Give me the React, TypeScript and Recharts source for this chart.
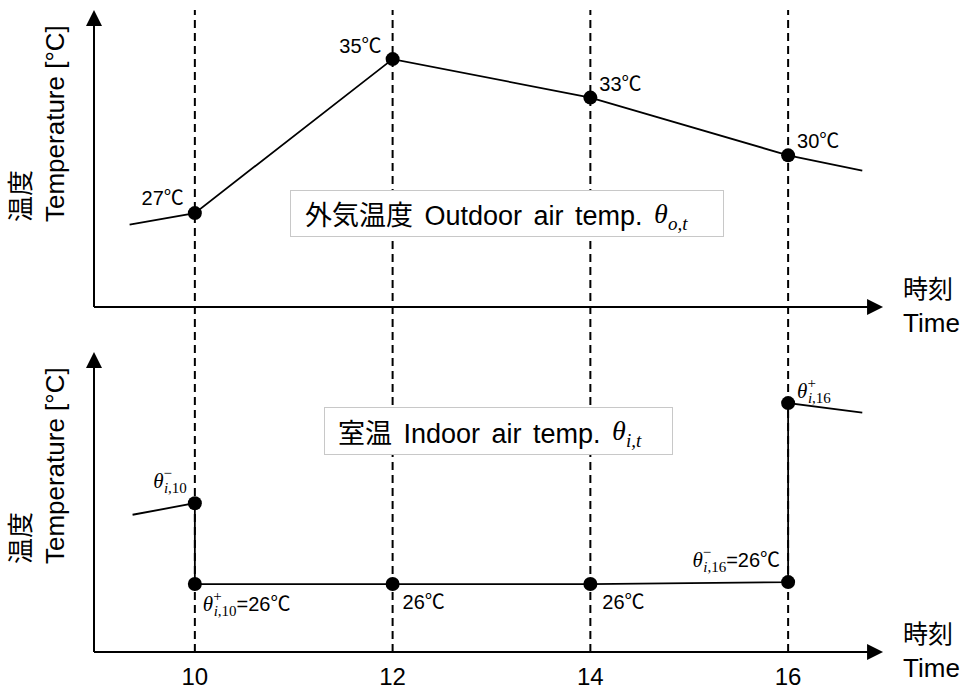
import React from 'react';
import { ComposedChart, Line, XAxis, YAxis, ReferenceLine } from 'recharts';

// ---- data ----
const timeTicks = [10, 12, 14, 16];

const outdoorHours = [9.34, 10, 12, 14, 16, 16.75];
const outdoorTemps = [26.4, 27, 35, 33, 30, 29.2];
const outdoorTexts = ['', '27℃', '35℃', '33℃', '30℃', ''];
const outdoorMarked = [false, true, true, true, true, false];

const indoorHours = [9.37, 10, 10, 12, 14, 16, 16, 16.75];
const indoorTemps = [29.6, 30.2, 26, 26, 26, 26.1, 35.4, 34.9];
const indoorSup = ['', '−', '+', '', '', '−', '+', ''];
const indoorSub = ['', 'i,10', 'i,10', '', '', 'i,16', 'i,16', ''];
const indoorTexts = ['', '', '=26℃', '26℃', '26℃', '=26℃', '', ''];
const indoorMarked = [false, true, true, true, true, true, true, false];

const outdoorData = outdoorHours.map((t, i) => ({
  t,
  temp: outdoorTemps[i],
  text: outdoorTexts[i],
  marked: outdoorMarked[i],
}));
const indoorData = indoorHours.map((t, i) => ({
  t,
  temp: indoorTemps[i],
  sup: indoorSup[i],
  sub: indoorSub[i],
  text: indoorTexts[i],
  marked: indoorMarked[i],
}));

// ---- layout constants ----
const W = 965;
const H = 693;
const X_DOMAIN: [number, number] = [8.98, 17];
const TOP_DOMAIN: [number, number] = [4.2, 37.55];
const BOT_DOMAIN: [number, number] = [22.47, 55.82];
const TOP_AXIS_Y = 22.12;
const BOT_AXIS_Y = 22.47;
const BOT_AXIS_TOP = 38.05;
const X_TIP = 16.96;

const SANS = "'Liberation Sans', Arial, 'Noto Sans CJK JP', sans-serif";
const CJK = "'Noto Sans CJK JP', 'Liberation Sans', sans-serif";
const SERIF = "'Liberation Serif', 'DejaVu Serif', serif";

const outdoorPlace: Record<number, { dx: number; dy: number; anchor: 'start' | 'end' }> = {
  1: { dx: -11, dy: -8, anchor: 'end' },
  2: { dx: -11, dy: -6, anchor: 'end' },
  3: { dx: 9, dy: -7, anchor: 'start' },
  4: { dx: 9, dy: -7, anchor: 'start' },
};
const indoorPlace: Record<number, { dx: number; dy: number; anchor: 'start' | 'end' }> = {
  1: { dx: -8, dy: -15, anchor: 'end' },
  2: { dx: 8, dy: 27, anchor: 'start' },
  3: { dx: 10, dy: 25, anchor: 'start' },
  4: { dx: 12, dy: 25, anchor: 'start' },
  5: { dx: -8, dy: -15, anchor: 'end' },
  6: { dx: 9, dy: -5, anchor: 'start' },
};

const renderOutdoorDot = (props: any) => {
  const { cx, cy, index, payload } = props;
  if (!payload || !payload.marked) return <g key={`od-${index}`} />;
  const p = outdoorPlace[index] || { dx: 8, dy: -8, anchor: 'start' };
  return (
    <g key={`od-${index}`}>
      <circle cx={cx} cy={cy} r={7} fill="#000" />
      {payload.text ? (
        <text x={cx + p.dx} y={cy + p.dy} textAnchor={p.anchor} fontFamily={SANS} fontSize={20} fill="#000">
          {payload.text}
        </text>
      ) : null}
    </g>
  );
};

const renderIndoorDot = (props: any) => {
  const { cx, cy, index, payload } = props;
  if (!payload || !payload.marked) return <g key={`id-${index}`} />;
  const p = indoorPlace[index] || { dx: 8, dy: -8, anchor: 'start' };
  const hasMath = !!payload.sub;
  const subParts = hasMath ? payload.sub.split(',') : [];
  return (
    <g key={`id-${index}`}>
      <circle cx={cx} cy={cy} r={7} fill="#000" />
      {hasMath ? (
        <text x={cx + p.dx} y={cy + p.dy} textAnchor={p.anchor} fontFamily={SANS} fontSize={20} fill="#000">
          <tspan fontFamily={SERIF} fontStyle="italic" fontSize={21}>θ</tspan>
          <tspan fontFamily={SERIF} fontSize={15} dy={-10}>{payload.sup}</tspan>
          <tspan fontFamily={SERIF} fontSize={15} fontStyle="italic" dx={-8} dy={15}>{subParts[0]}</tspan>
          <tspan fontFamily={SERIF} fontSize={15}>{',' + subParts[1]}</tspan>
          <tspan dy={-5}>{payload.text}</tspan>
        </text>
      ) : payload.text ? (
        <text x={cx + p.dx} y={cy + p.dy} textAnchor={p.anchor} fontFamily={SANS} fontSize={20} fill="#000">
          {payload.text}
        </text>
      ) : null}
    </g>
  );
};

const yAxisShape = (props: any) => {
  const { x1, y1, x2, y2 } = props;
  const tipX = x2;
  const tipY = y2;
  return (
    <g>
      <line x1={x1} y1={y1} x2={x2} y2={y2 + 12} stroke="#000" strokeWidth={2} />
      <polygon points={`${tipX},${tipY} ${tipX - 8},${tipY + 16} ${tipX + 8},${tipY + 16}`} fill="#000" />
      <text
        transform={`translate(${tipX - 30}, ${tipY + 212}) rotate(-90)`}
        textAnchor="start"
        fontFamily={SANS}
        fontSize={26}
        fill="#000"
      >
        Temperature [°C]
      </text>
      <text
        transform={`translate(${tipX - 64}, ${tipY + 212}) rotate(-90)`}
        textAnchor="start"
        fontFamily={CJK}
        fontSize={26}
        fill="#000"
      >
        温度
      </text>
    </g>
  );
};

const xAxisShape = (props: any) => {
  const { x1, y1, x2, y2 } = props;
  const tipX = x2;
  const tipY = y2;
  return (
    <g>
      <line x1={x1} y1={y1} x2={x2 - 12} y2={y2} stroke="#000" strokeWidth={2} />
      <polygon points={`${tipX},${tipY} ${tipX - 16},${tipY - 8} ${tipX - 16},${tipY + 8}`} fill="#000" />
      <text x={tipX + 20} y={tipY - 9} fontFamily={CJK} fontSize={25} fill="#000">時刻</text>
      <text x={tipX + 20} y={tipY + 25} fontFamily={SANS} fontSize={26} fill="#000">Time</text>
    </g>
  );
};

const boxStyle: React.CSSProperties = {
  position: 'absolute',
  boxSizing: 'border-box',
  background: '#fff',
  border: '1px solid #c8c8c8',
  display: 'flex',
  alignItems: 'center',
  whiteSpace: 'nowrap',
  fontFamily: SANS,
  fontSize: 27,
  color: '#000',
  wordSpacing: 4,
};

const MathSym = ({ sub }: { sub: string }) => (
  <span style={{ fontFamily: SERIF, fontStyle: 'italic', fontSize: 28 }}>
    θ
    <span style={{ fontSize: 19, position: 'relative', top: 7 }}>{sub}</span>
  </span>
);

export default function App() {
  return (
    <div style={{ position: 'absolute', left: 0, top: 0, width: W, height: H, background: '#fff' }}>
      <ComposedChart width={W} height={H} margin={{ top: 10, right: 78, bottom: 0, left: 94 }}>
        <XAxis
          dataKey="t"
          type="number"
          domain={X_DOMAIN}
          allowDataOverflow
          ticks={timeTicks}
          tickLine={false}
          axisLine={false}
          height={41}
          tickSize={6}
          tickMargin={10}
          tick={{ fontSize: 24, fill: '#000', fontFamily: SANS }}
        />
        <YAxis yAxisId="T" type="number" domain={TOP_DOMAIN} allowDataOverflow hide />
        <YAxis yAxisId="B" type="number" domain={BOT_DOMAIN} allowDataOverflow hide />

        {timeTicks.map((h) => (
          <ReferenceLine
            key={`v-${h}`}
            x={h}
            yAxisId="T"
            stroke="#000"
            strokeWidth={2}
            strokeDasharray="8 5"
          />
        ))}

        <ReferenceLine
          yAxisId="T"
          segment={[{ x: X_DOMAIN[0], y: TOP_AXIS_Y }, { x: X_DOMAIN[0], y: TOP_DOMAIN[1] }]}
          shape={yAxisShape}
        />
        <ReferenceLine
          yAxisId="T"
          segment={[{ x: X_DOMAIN[0], y: TOP_AXIS_Y }, { x: X_TIP, y: TOP_AXIS_Y }]}
          shape={xAxisShape}
        />
        <ReferenceLine
          yAxisId="B"
          segment={[{ x: X_DOMAIN[0], y: BOT_AXIS_Y }, { x: X_DOMAIN[0], y: BOT_AXIS_TOP }]}
          shape={yAxisShape}
        />
        <ReferenceLine
          yAxisId="B"
          segment={[{ x: X_DOMAIN[0], y: BOT_AXIS_Y }, { x: X_TIP, y: BOT_AXIS_Y }]}
          shape={xAxisShape}
        />

        <Line
          yAxisId="T"
          data={outdoorData}
          dataKey="temp"
          type="linear"
          stroke="#000"
          strokeWidth={1.8}
          dot={renderOutdoorDot}
          activeDot={false}
          isAnimationActive={false}
        />
        <Line
          yAxisId="B"
          data={indoorData}
          dataKey="temp"
          type="linear"
          stroke="#000"
          strokeWidth={1.8}
          dot={renderIndoorDot}
          activeDot={false}
          isAnimationActive={false}
        />
      </ComposedChart>

      <div style={{ ...boxStyle, left: 290, top: 190, width: 434, height: 47, paddingLeft: 14 }}>
        <span>外気温度 Outdoor air temp.&nbsp;</span>
        <MathSym sub="o,t" />
      </div>
      <div style={{ ...boxStyle, left: 324, top: 407, width: 349, height: 48, paddingLeft: 13 }}>
        <span>室温 Indoor air temp.&nbsp;</span>
        <MathSym sub="i,t" />
      </div>
    </div>
  );
}
